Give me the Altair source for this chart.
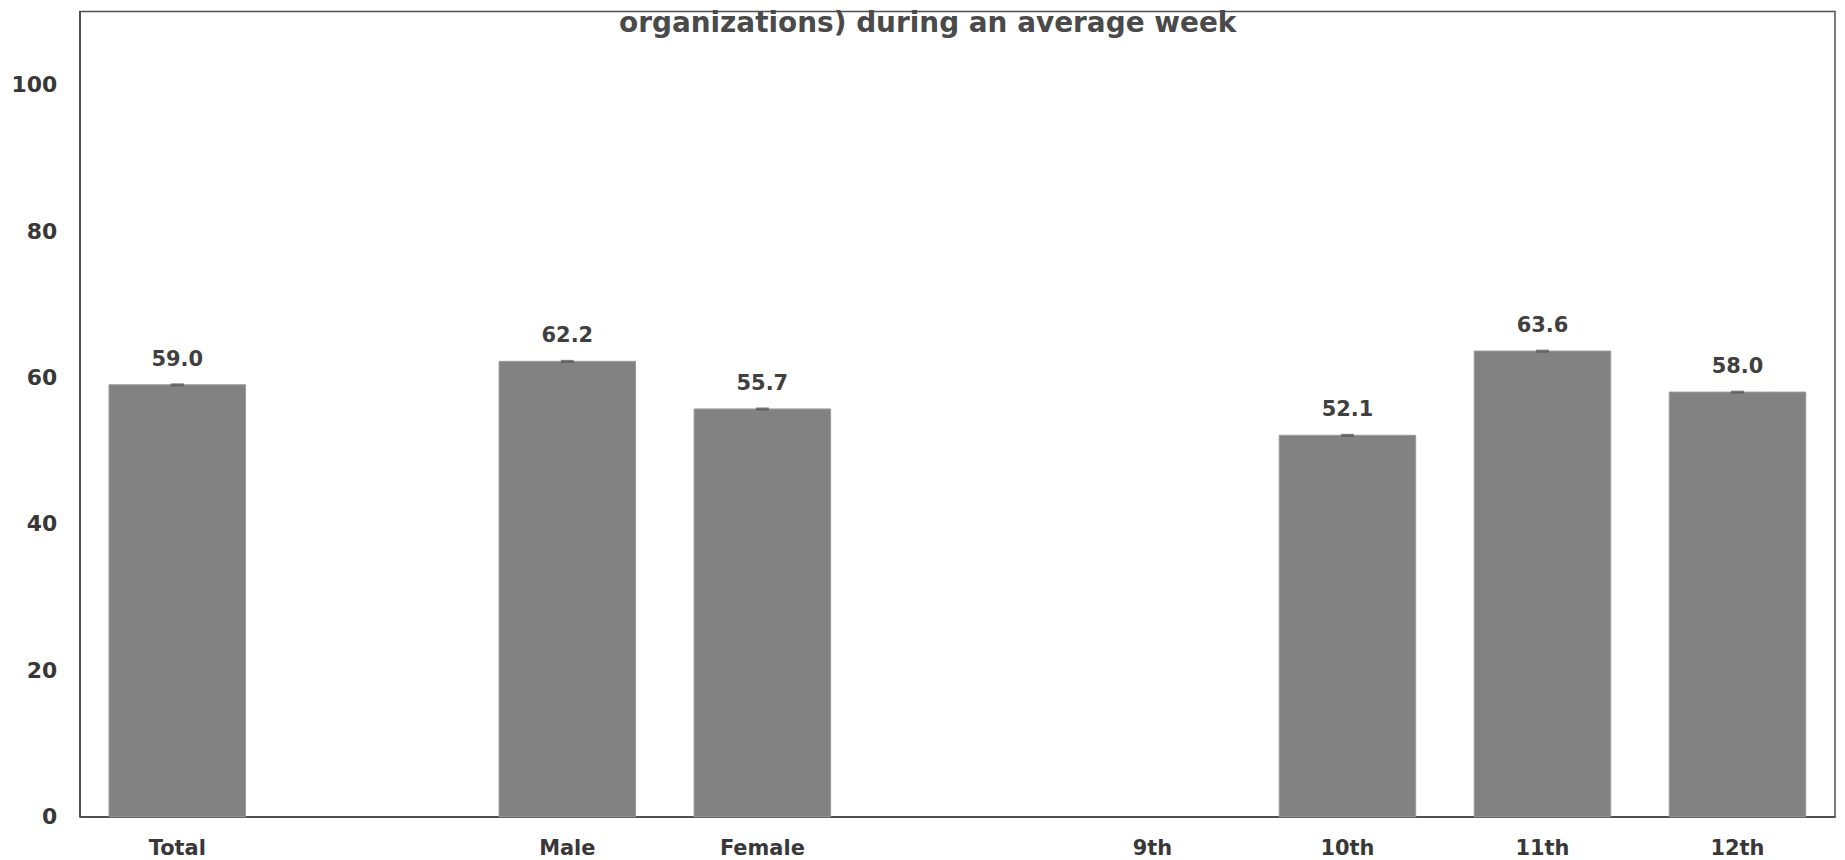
import altair as alt
import pandas as pd

categories = ["Total", " ", "Male", "Female", "  ", "9th", "10th", "11th", "12th"]
values = [59.0, None, 62.2, 55.7, None, None, 52.1, 63.6, 58.0]
value_labels = ["59.0", "", "62.2", "55.7", "", "", "52.1", "63.6", "58.0"]
y_ticks = [0, 20, 40, 60, 80, 100]
title_text = "organizations) during an average week"

df = pd.DataFrame({"cat": categories, "val": values, "lab": value_labels})
title_df = pd.DataFrame({"t": [title_text]})

FONT = "DejaVu Sans"

x_enc = alt.X(
    "cat:N",
    sort=categories,
    scale=alt.Scale(domain=categories, paddingInner=0.3, paddingOuter=0.15),
    axis=alt.Axis(
        title=None, labelAngle=0, ticks=False, labelFontSize=21,
        labelFontWeight="bold", labelColor="#383838", labelPadding=21,
        labelFont=FONT, domainColor="#505050", domainWidth=1.5,
    ),
)
y_enc = alt.Y(
    "val:Q",
    scale=alt.Scale(domain=[0, 110], nice=False),
    axis=alt.Axis(
        title=None, values=y_ticks, grid=False, ticks=False, labelFontSize=22,
        labelFontWeight="bold", labelColor="#383838", labelPadding=23,
        labelFont=FONT, domainColor="#505050", domainWidth=1.5,
    ),
)

base = alt.Chart(df)

bars = base.mark_bar(color="#828282", stroke="#9a9a9a", strokeWidth=1).encode(x=x_enc, y=y_enc)
ticks = base.mark_tick(color="#505050", size=13, thickness=3).encode(x=x_enc, y=y_enc)
labels = base.mark_text(
    font=FONT, fontSize=21, fontWeight="bold", color="#404040",
    baseline="bottom", dy=-15,
).encode(x=x_enc, y=y_enc, text="lab:N")

title_mark = alt.Chart(title_df).mark_text(
    font=FONT, fontSize=28, fontWeight="bold", color="#4a4a4a",
    align="left", baseline="alphabetic", x=541, y=21,
).encode(text="t:N")

chart = (
    alt.layer(bars, ticks, labels, title_mark)
    .properties(
        width=1761,
        height=808,
        autosize=alt.AutoSizeParams(type="none"),
        padding={"left": 72, "top": 2, "right": 2, "bottom": 42},
        background="white",
    )
    .configure_view(stroke="#505050", strokeWidth=1.5)
)

chart.save("out.html", embed_options={"renderer": "svg", "actions": False})
